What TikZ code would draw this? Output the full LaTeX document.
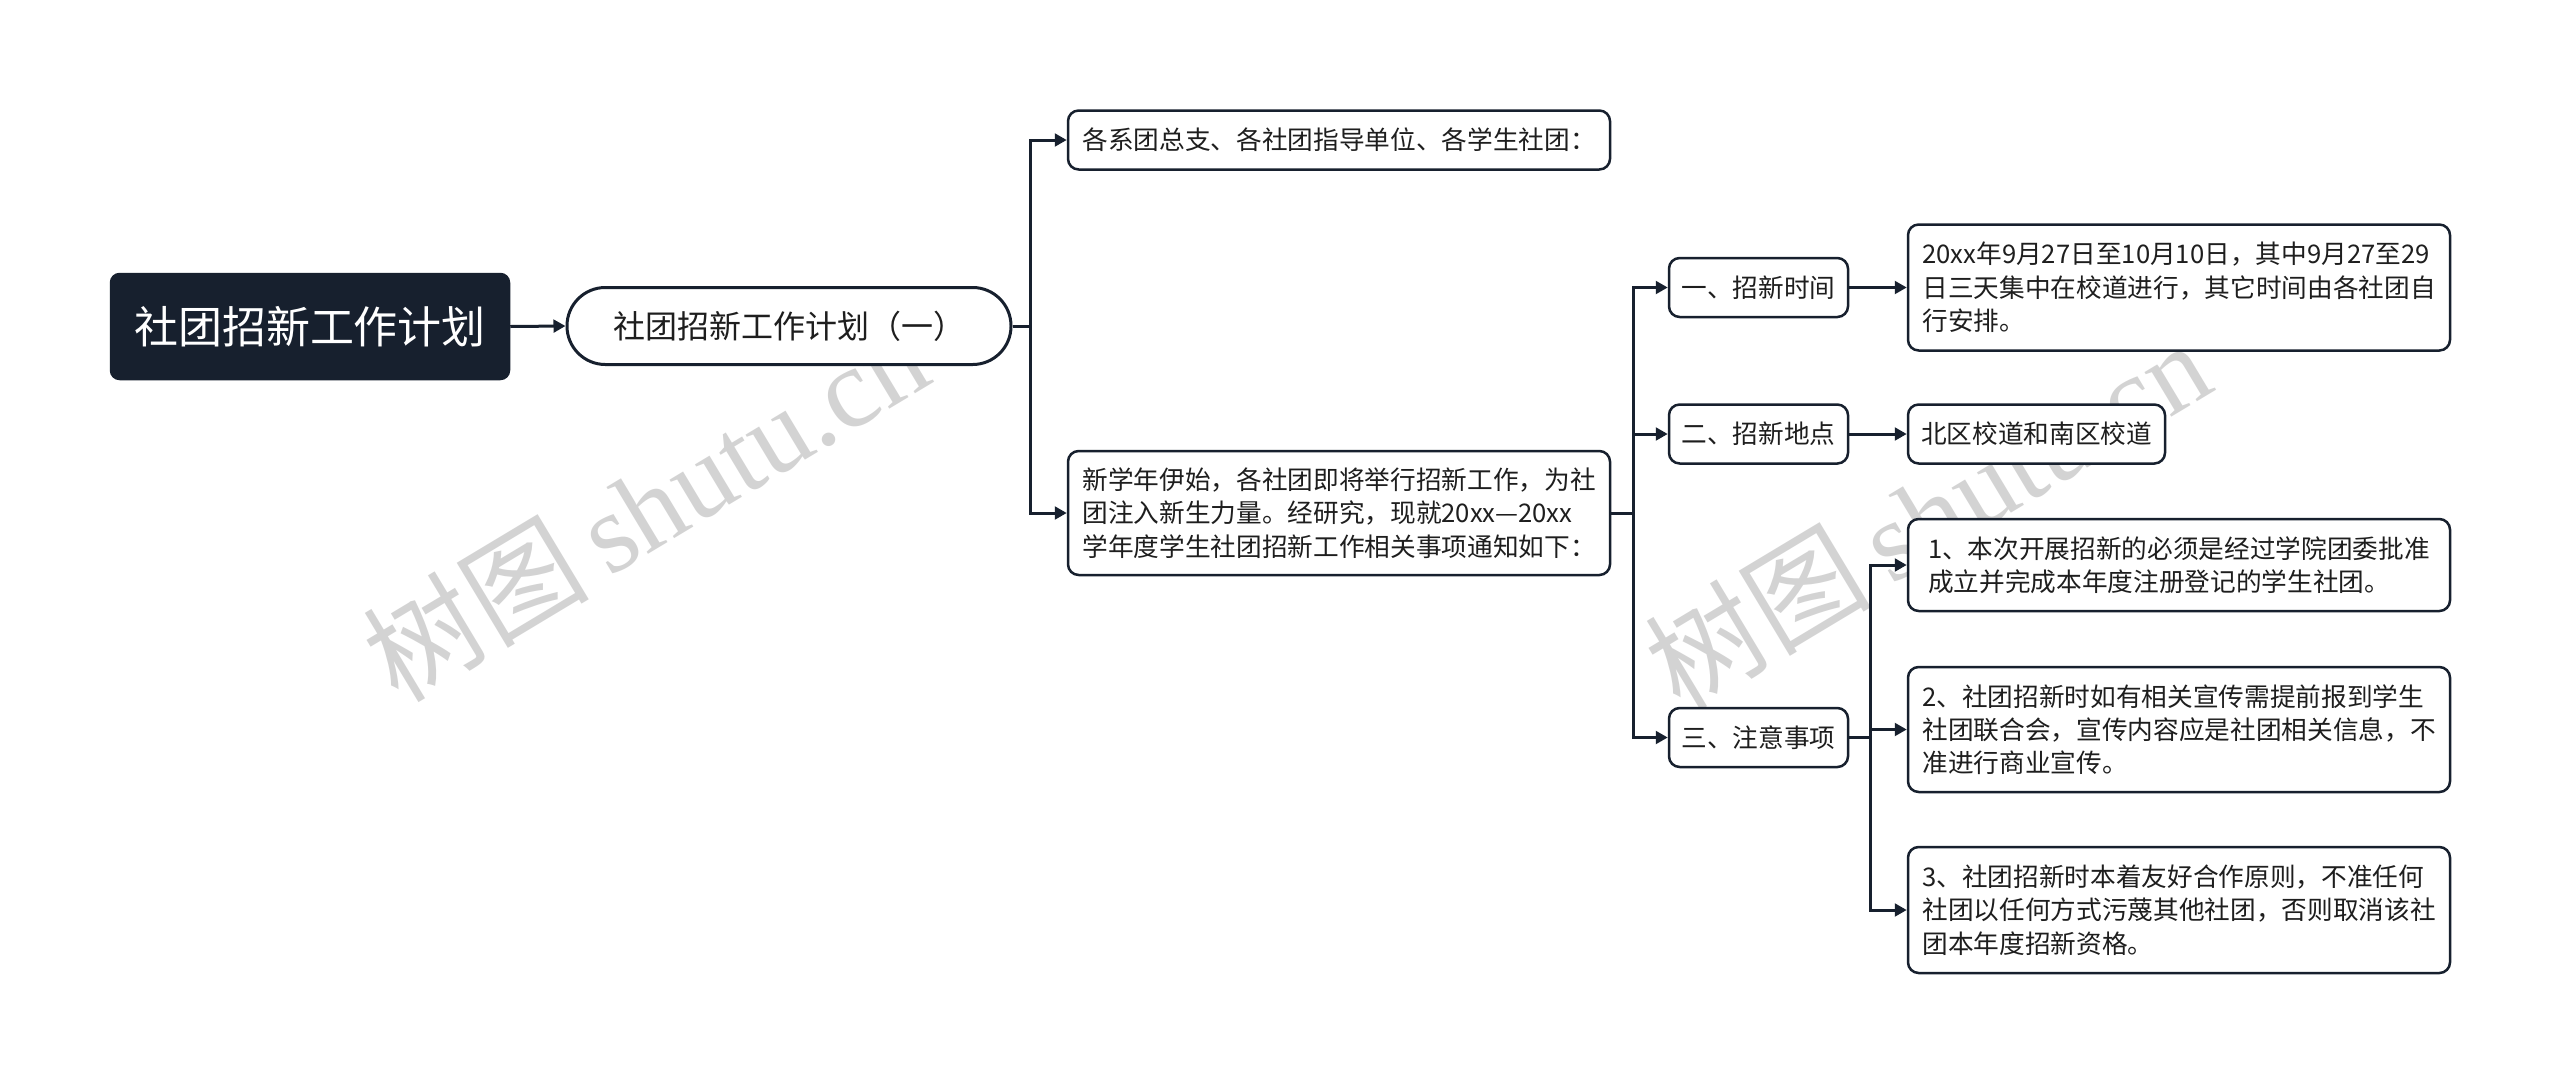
\documentclass[tikz,border=0pt]{standalone}
\usepackage{fontspec}
\setmainfont{Noto Sans CJK SC}
\newfontfamily\wmlatin{Liberation Serif}
\newfontfamily\wmcjk{Noto Sans CJK SC}
\usetikzlibrary{arrows.meta}
\definecolor{navy}{HTML}{17202E}
\definecolor{ink}{HTML}{1E1E1E}
\tikzset{
  conn/.style={draw=navy, line width=0.9pt, -{Triangle[length=3.6pt,width=3.8pt]}},
  plain/.style={draw=navy, line width=0.9pt},
  rootbox/.style={draw=navy, fill=navy, text=white, line width=0.75pt, rounded corners=2.6pt,
     font=\fontsize{13.2}{16}\selectfont, minimum width=119.4pt, minimum height=31.5pt, inner sep=0pt},
  pillbox/.style={draw=navy, fill=white, text=ink, line width=0.9pt, rounded corners=11.5pt,
     font=\fontsize{9.6}{12}\selectfont, minimum width=133.2pt, minimum height=23.1pt, inner sep=0pt},
  txtbox/.style={draw=navy, fill=white, text=ink, line width=0.75pt, rounded corners=3.2pt,
     font=\fontsize{7.7}{10}\selectfont, align=left, inner sep=0pt},
  wm/.style={text=black!20, opacity=0.85, inner sep=0pt, font=\fontsize{34}{40}\selectfont}
}
\begin{document}
\begin{tikzpicture}[x=0.3pt,y=-0.3pt]
\useasboundingbox[fill=white] (0,0) rectangle (2560,1083);

% watermarks
\node[wm, rotate=31] (wm1) at (645,506) {\wmcjk 树图\,\wmlatin shutu.cn};
\node[wm, rotate=31] (wm2) at (1927,514) {\wmcjk 树图\,\wmlatin shutu.cn};

\node[rootbox] (root) at (310,326.5) {社团招新工作计划};
\node[pillbox] (n2) at (789,326) {社团招新工作计划（一）};

\node[txtbox, minimum width=162.6pt, minimum height=17.7pt] (top) at (1339,140)
  {各系团总支、各社团指导单位、各学生社团：};
\node[txtbox, minimum width=162.6pt, minimum height=37.2pt] (mid) at (1339,513)
  {新学年伊始，各社团即将举行招新工作，为社\\团注入新生力量。经研究，现就20xx—20xx\\学年度学生社团招新工作相关事项通知如下：};

\node[txtbox, minimum width=53.7pt, minimum height=17.7pt] (s1) at (1758.5,287.5) {一、招新时间};
\node[txtbox, minimum width=53.7pt, minimum height=17.7pt] (s2) at (1758.5,434) {二、招新地点};
\node[txtbox, minimum width=53.7pt, minimum height=17.7pt] (s3) at (1758.5,737.5) {三、注意事项};

\node[txtbox, minimum width=162.6pt, minimum height=37.8pt] (d1) at (2179,287.5)
  {20xx年9月27日至10月10日，其中9月27至29\\日三天集中在校道进行，其它时间由各社团自\\行安排。};
\node[txtbox, minimum width=77.1pt, minimum height=17.7pt] (d2) at (2036.5,434) {北区校道和南区校道};

\node[txtbox, minimum width=162.6pt, minimum height=27.6pt] (i1) at (2179,565)
  {1、本次开展招新的必须是经过学院团委批准\\成立并完成本年度注册登记的学生社团。};
\node[txtbox, minimum width=162.6pt, minimum height=37.5pt] (i2) at (2179,729.5)
  {2、社团招新时如有相关宣传需提前报到学生\\社团联合会，宣传内容应是社团相关信息，不\\准进行商业宣传。};
\node[txtbox, minimum width=162.6pt, minimum height=37.8pt] (i3) at (2179,910)
  {3、社团招新时本着友好合作原则，不准任何\\社团以任何方式污蔑其他社团，否则取消该社\\团本年度招新资格。};

% junction coordinates
\coordinate (b1) at (1030,326);
\coordinate (b2) at (1633,513);
\coordinate (b3) at (1870,737.5);

\draw[conn] (root.east) -- (n2.west);
\draw[plain] (n2.east) -- (b1);
\draw[conn] (b1) |- (top.west);
\draw[conn] (b1) |- (mid.west);

\draw[plain] (mid.east) -- (b2);
\draw[conn] (b2) |- (s1.west);
\draw[conn] (b2) |- (s2.west);
\draw[conn] (b2) |- (s3.west);

\draw[conn] (s1.east) -- (d1.west);
\draw[conn] (s2.east) -- (d2.west);

\draw[plain] (s3.east) -- (b3);
\draw[conn] (b3) |- (i1.west);
\draw[conn] (b3) |- (i2.west);
\draw[conn] (b3) |- (i3.west);
\end{tikzpicture}
\end{document}
